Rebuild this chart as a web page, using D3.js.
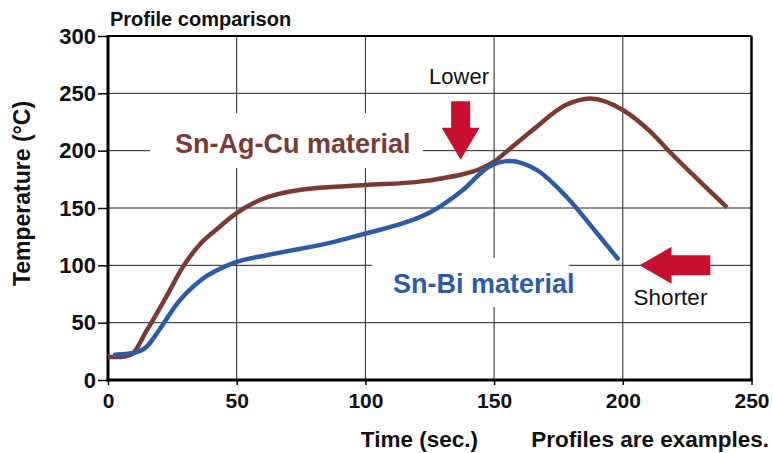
<!DOCTYPE html>
<html>
<head>
<meta charset="utf-8">
<script src="https://d3js.org/d3.v7.min.js"></script>
<style>
  body { margin: 0; background: #fff; }
  text { font-family: "Liberation Sans", Arial, Helvetica, sans-serif; }
</style>
</head>
<body>
<div id="chart"></div>
<script>
// x: time in seconds, y: temperature in degC
const timeTicks = [0, 50, 100, 150, 200, 250];
const tempTicks = [0, 50, 100, 150, 200, 250, 300];

const snAgCuTime = [0, 5, 9, 15, 22, 29.5, 36, 42, 49, 59, 75, 100, 121, 130, 137, 144.5, 150, 155, 165, 178, 187.5, 200, 210.5, 218, 230, 240.5];
const snAgCuTemp = [20, 20, 22, 43, 70, 100, 119, 131, 144, 157, 166, 170, 173, 176, 179, 184, 190.5, 199.5, 218, 240, 245.5, 235.5, 217, 199.5, 173, 150.5];

const snBiTime = [2.7, 9.7, 15, 20, 27, 36, 48.6, 62, 87, 100.5, 105.7, 125, 138, 148, 156, 166.7, 178, 190, 198];
const snBiTemp = [22, 23.5, 29, 44, 67, 87, 102, 109, 120, 128, 131, 146, 166, 186, 191, 183, 160, 128, 106];

// arrows in data units: [time, temp] of the tip and of the tail
const lowerArrow = { tip: [137, 192], tail: [137, 243] };
const shorterArrow = { tip: [206.5, 100], tail: [234, 100] };

const width = 773, height = 453;
const brown = '#7b3a33', blue = '#2c5ca9', red = '#c8102e';

const svg = d3.select('#chart').append('svg')
  .attr('width', width)
  .attr('height', height);

const x = d3.scaleLinear().domain([0, 250]).range([108, 751.5]);
const y = d3.scaleLinear().domain([0, 300]).range([380, 36]);

// grid
svg.append('g').selectAll('line')
  .data(tempTicks.slice(1, -1))
  .join('line')
  .attr('x1', x(0)).attr('x2', x(250))
  .attr('y1', d => y(d)).attr('y2', d => y(d))
  .attr('stroke', '#222').attr('stroke-width', 1);

svg.append('g').selectAll('line')
  .data(timeTicks.slice(1, -1))
  .join('line')
  .attr('y1', y(0)).attr('y2', y(300))
  .attr('x1', d => x(d)).attr('x2', d => x(d))
  .attr('stroke', '#222').attr('stroke-width', 1);

// white knockouts behind the series labels
svg.append('rect').attr('x', 150).attr('y', 113).attr('width', 273).attr('height', 55).attr('fill', '#fff');
svg.append('rect').attr('x', 372).attr('y', 258).attr('width', 197).attr('height', 49).attr('fill', '#fff');

// frame
svg.append('line').attr('x1', x(0)).attr('x2', x(250)).attr('y1', y(300)).attr('y2', y(300))
  .attr('stroke', '#000').attr('stroke-width', 2);
svg.append('line').attr('x1', x(250)).attr('x2', x(250)).attr('y1', y(0)).attr('y2', y(300))
  .attr('stroke', '#000').attr('stroke-width', 2.5);
svg.append('line').attr('x1', x(0)).attr('x2', x(0)).attr('y1', y(0) + 1.5).attr('y2', y(300) - 1)
  .attr('stroke', '#000').attr('stroke-width', 3);
svg.append('line').attr('x1', x(0) - 1.5).attr('x2', x(250) + 1).attr('y1', y(0)).attr('y2', y(0))
  .attr('stroke', '#000').attr('stroke-width', 3);

// axes
const yAxis = d3.axisLeft(y).tickValues(tempTicks).tickSize(10).tickSizeOuter(0).tickPadding(2);
const gy = svg.append('g').attr('transform', `translate(${x(0)},0)`).call(yAxis);
gy.select('.domain').remove();
gy.selectAll('line').attr('stroke', '#000').attr('stroke-width', 1.5);
gy.selectAll('text').attr('font-size', 22).attr('font-weight', 'bold').attr('fill', '#111')
  .style('font-family', '"Liberation Sans", Arial, sans-serif');

const xAxis = d3.axisBottom(x).tickValues(timeTicks).tickSize(5).tickSizeOuter(0).tickPadding(8);
const gx = svg.append('g').attr('transform', `translate(0,${y(0)})`).call(xAxis);
gx.select('.domain').remove();
gx.selectAll('line').attr('stroke', '#000').attr('stroke-width', 1.5);
gx.selectAll('text').attr('font-size', 21).attr('font-weight', 'bold').attr('fill', '#111')
  .style('font-family', '"Liberation Sans", Arial, sans-serif');

// curves
const line = d3.line().curve(d3.curveMonotoneX).x(d => x(d[0])).y(d => y(d[1]));

svg.append('path')
  .datum(d3.zip(snAgCuTime, snAgCuTemp))
  .attr('d', line)
  .attr('fill', 'none').attr('stroke', brown).attr('stroke-width', 4.5)
  .attr('stroke-linecap', 'butt');

svg.append('path')
  .datum(d3.zip(snBiTime, snBiTemp))
  .attr('d', line)
  .attr('fill', 'none').attr('stroke', blue).attr('stroke-width', 4.5)
  .attr('stroke-linecap', 'round');

// arrows
function arrowPath(tip, tail, shaftW, headW, headL) {
  const x0 = x(tip[0]), y0 = y(tip[1]);
  const x1 = x(tail[0]), y1 = y(tail[1]);
  const len = Math.hypot(x1 - x0, y1 - y0);
  const ux = (x1 - x0) / len, uy = (y1 - y0) / len;
  const px = -uy, py = ux;
  const p = (a, b) => [x0 + ux * a + px * b, y0 + uy * a + py * b];
  const pts = [p(0, 0), p(headL, headW / 2), p(headL, shaftW / 2), p(len, shaftW / 2),
               p(len, -shaftW / 2), p(headL, -shaftW / 2), p(headL, -headW / 2)];
  return 'M' + pts.map(q => q.join(',')).join('L') + 'Z';
}
svg.append('path').attr('d', arrowPath(lowerArrow.tip, lowerArrow.tail, 19, 38, 32)).attr('fill', red);
svg.append('path').attr('d', arrowPath(shorterArrow.tip, shorterArrow.tail, 20, 37, 32)).attr('fill', red);

// texts
svg.append('text').attr('x', 110).attr('y', 26).attr('font-size', 20).attr('font-weight', 'bold')
  .attr('fill', '#111').text('Profile comparison');

svg.append('text').attr('transform', 'translate(30,193.5) rotate(-90)').attr('text-anchor', 'middle')
  .attr('font-size', 23).attr('font-weight', 'bold').attr('fill', '#111').text('Temperature (°C)');

svg.append('text').attr('x', 175).attr('y', 153).attr('font-size', 27).attr('font-weight', 'bold')
  .attr('fill', brown).text('Sn-Ag-Cu material');

svg.append('text').attr('x', 393).attr('y', 293).attr('font-size', 27).attr('font-weight', 'bold')
  .attr('fill', blue).text('Sn-Bi material');

svg.append('text').attr('x', 459).attr('y', 84).attr('text-anchor', 'middle').attr('font-size', 22)
  .attr('fill', '#111').text('Lower');

svg.append('text').attr('x', 670.5).attr('y', 305).attr('text-anchor', 'middle').attr('font-size', 22.5)
  .attr('fill', '#111').text('Shorter');

svg.append('text').attr('x', 478).attr('y', 447).attr('text-anchor', 'end').attr('font-size', 22.5)
  .attr('font-weight', 'bold').attr('fill', '#111').text('Time (sec.)');

svg.append('text').attr('x', 769).attr('y', 447).attr('text-anchor', 'end').attr('font-size', 22.5)
  .attr('font-weight', 'bold').attr('fill', '#111').text('Profiles are examples.');
</script>
</body>
</html>
